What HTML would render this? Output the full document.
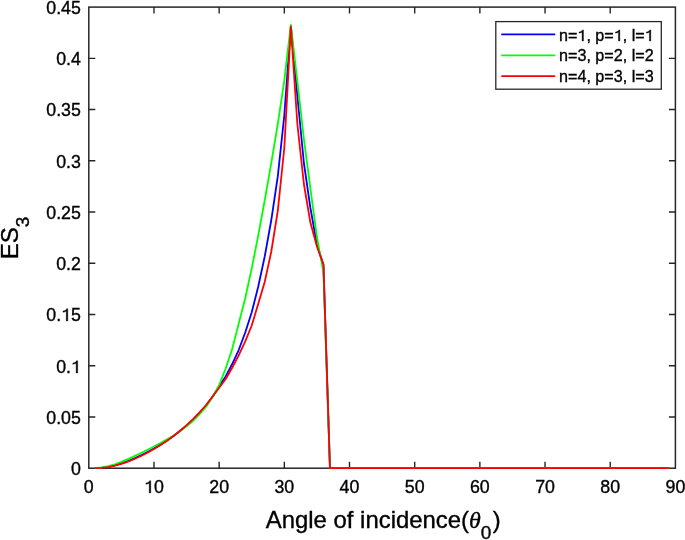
<!DOCTYPE html>
<html><head><meta charset="utf-8"><style>
html,body{margin:0;padding:0;background:#fff;}
body{width:685px;height:540px;overflow:hidden;}
svg{display:block;font-family:"Liberation Sans",sans-serif;will-change:transform;}
text{stroke:#000;stroke-width:0.35px;}
.one{fill:transparent;stroke:none;}
</style></head><body>
<svg width="685" height="540" viewBox="0 0 685 540">
<rect x="0" y="0" width="685" height="540" fill="#fff"/>
<g stroke="#262626" fill="none">
<rect x="88.8" y="7.1" width="586.60" height="461.10" stroke-width="1.5"/>
<path stroke-width="1.4" d="M153.98 468.20V461.70M153.98 7.10V13.60M219.16 468.20V461.70M219.16 7.10V13.60M284.33 468.20V461.70M284.33 7.10V13.60M349.51 468.20V461.70M349.51 7.10V13.60M414.69 468.20V461.70M414.69 7.10V13.60M479.87 468.20V461.70M479.87 7.10V13.60M545.04 468.20V461.70M545.04 7.10V13.60M610.22 468.20V461.70M610.22 7.10V13.60M88.80 416.97H95.30M675.40 416.97H668.90M88.80 365.73H95.30M675.40 365.73H668.90M88.80 314.50H95.30M675.40 314.50H668.90M88.80 263.27H95.30M675.40 263.27H668.90M88.80 212.03H95.30M675.40 212.03H668.90M88.80 160.80H95.30M675.40 160.80H668.90M88.80 109.57H95.30M675.40 109.57H668.90M88.80 58.33H95.30M675.40 58.33H668.90"/>
</g>
<g fill="none" stroke-width="1.8" stroke-linejoin="round" stroke-linecap="butt">
<polyline stroke="#0000ff" points="95.32,468.20 101.84,467.75 108.35,466.87 114.87,465.41 121.39,463.45 127.91,461.08 134.42,458.36 140.94,455.34 147.46,452.04 153.98,448.47 160.50,444.62 167.01,440.47 173.53,435.97 180.05,431.05 186.57,425.64 193.08,419.64 199.60,412.93 206.12,405.57 212.64,396.57 219.16,386.25 225.67,376.50 232.19,364.04 238.71,350.06 245.23,332.55 251.74,312.23 258.26,286.49 264.78,256.20 271.30,220.03 277.82,176.15 284.33,115.06 290.85,26.30 297.37,96.00 303.89,163.00 310.40,208.00 316.92,244.50 323.44,265.00 329.96,468.20 668.88,468.20"/>
<polyline stroke="#00ff00" points="95.32,468.20 101.84,467.49 108.35,466.19 114.87,464.25 121.39,461.84 127.91,459.09 134.42,456.11 140.94,452.99 147.46,449.77 153.98,446.44 160.50,443.00 167.01,439.37 173.53,435.48 180.05,431.19 186.57,426.35 193.08,420.77 199.60,414.22 206.12,406.70 212.64,396.96 219.16,385.10 225.67,368.47 232.19,348.94 238.71,323.65 245.23,298.22 251.74,268.36 258.26,235.44 264.78,200.01 271.30,162.80 277.82,123.63 284.33,80.46 290.85,24.90 297.37,81.50 303.89,139.00 310.40,188.70 316.92,237.00 323.44,272.00 329.96,468.20 668.88,468.20"/>
<polyline stroke="#ff0000" points="95.32,468.20 101.84,467.84 108.35,467.07 114.87,465.74 121.39,463.92 127.91,461.67 134.42,459.03 140.94,456.04 147.46,452.70 153.98,449.03 160.50,445.03 167.01,440.68 173.53,435.95 180.05,430.80 186.57,425.19 193.08,419.05 199.60,412.30 206.12,404.98 212.64,396.43 219.16,387.70 225.67,379.05 232.19,367.78 238.71,355.39 245.23,341.33 251.74,325.53 258.26,303.73 264.78,281.64 271.30,251.51 277.82,210.59 284.33,147.77 290.85,26.60 297.37,124.00 303.89,184.00 310.40,222.60 316.92,246.50 323.44,264.40 329.96,468.20 668.88,468.20"/>
</g>
<g fill="#000000" font-size="17.8">
<text x="88.80" y="493" text-anchor="middle">0</text><text x="153.98" y="493" text-anchor="middle"><tspan class="one">1</tspan>0</text><text x="219.16" y="493" text-anchor="middle">20</text><text x="284.33" y="493" text-anchor="middle">30</text><text x="349.51" y="493" text-anchor="middle">40</text><text x="414.69" y="493" text-anchor="middle">50</text><text x="479.87" y="493" text-anchor="middle">60</text><text x="545.04" y="493" text-anchor="middle">70</text><text x="610.22" y="493" text-anchor="middle">80</text><text x="675.40" y="493" text-anchor="middle">90</text>
<text x="80.9" y="475" text-anchor="end">0</text><text x="80.9" y="424" text-anchor="end">0.05</text><text x="80.9" y="373" text-anchor="end">0.<tspan class="one">1</tspan></text><text x="80.9" y="321" text-anchor="end">0.<tspan class="one">1</tspan>5</text><text x="80.9" y="270" text-anchor="end">0.2</text><text x="80.9" y="219" text-anchor="end">0.25</text><text x="80.9" y="168" text-anchor="end">0.3</text><text x="80.9" y="116" text-anchor="end">0.35</text><text x="80.9" y="65" text-anchor="end">0.4</text><text x="80.9" y="14" text-anchor="end">0.45</text>
</g>
<text x="383.3" y="528" font-size="23.9" text-anchor="middle" fill="#000000">Angle of incidence(<tspan font-family="Liberation Serif" font-style="italic">θ</tspan><tspan font-size="19" dy="10.8">0</tspan><tspan dx="1.5" dy="-10.8">)</tspan></text>
<text transform="translate(17.6,238.0) rotate(-90)" font-size="24" text-anchor="middle" fill="#000000">ES<tspan font-size="19" dy="11">3</tspan></text>
<rect x="495.8" y="21.6" width="165.5" height="67.6" fill="#fff" stroke="#262626" stroke-width="1.3"/>
<g stroke-width="1.8" stroke-linecap="round">
<line x1="502" y1="34.4" x2="554.5" y2="34.4" stroke="#0000ff"/>
<line x1="502" y1="55.4" x2="554.5" y2="55.4" stroke="#00ff00"/>
<line x1="502" y1="76.2" x2="554.5" y2="76.2" stroke="#ff0000"/>
</g>
<g font-size="16.15" fill="#000000">
<text x="559" y="41">n=<tspan class="one">1</tspan>, p=<tspan class="one">1</tspan>, l=<tspan class="one">1</tspan></text>
<text x="559" y="61">n=3, p=2, l=2</text>
<text x="559" y="82">n=4, p=3, l=3</text>
</g>
<g fill="#000" stroke="#000" stroke-width="0.35" vector-effect="non-scaling-stroke"><path vector-effect="non-scaling-stroke" d="M590 0L770 0L770 1409L640 1409C600 1290 440 1170 210 1140L210 1000C380 1010 520 1060 590 1140Z" transform="translate(144.09,493.00) scale(0.008691,-0.008691)"/><path vector-effect="non-scaling-stroke" d="M590 0L770 0L770 1409L640 1409C600 1290 440 1170 210 1140L210 1000C380 1010 520 1060 590 1140Z" transform="translate(71.01,373.00) scale(0.008691,-0.008691)"/><path vector-effect="non-scaling-stroke" d="M590 0L770 0L770 1409L640 1409C600 1290 440 1170 210 1140L210 1000C380 1010 520 1060 590 1140Z" transform="translate(61.12,321.00) scale(0.008691,-0.008691)"/><path vector-effect="non-scaling-stroke" d="M590 0L770 0L770 1409L640 1409C600 1290 440 1170 210 1140L210 1000C380 1010 520 1060 590 1140Z" transform="translate(577.41,41.00) scale(0.007886,-0.007886)"/><path vector-effect="non-scaling-stroke" d="M590 0L770 0L770 1409L640 1409C600 1290 440 1170 210 1140L210 1000C380 1010 520 1060 590 1140Z" transform="translate(613.77,41.00) scale(0.007886,-0.007886)"/><path vector-effect="non-scaling-stroke" d="M590 0L770 0L770 1409L640 1409C600 1290 440 1170 210 1140L210 1000C380 1010 520 1060 590 1140Z" transform="translate(644.73,41.00) scale(0.007886,-0.007886)"/></g>
</svg>
</body></html>
